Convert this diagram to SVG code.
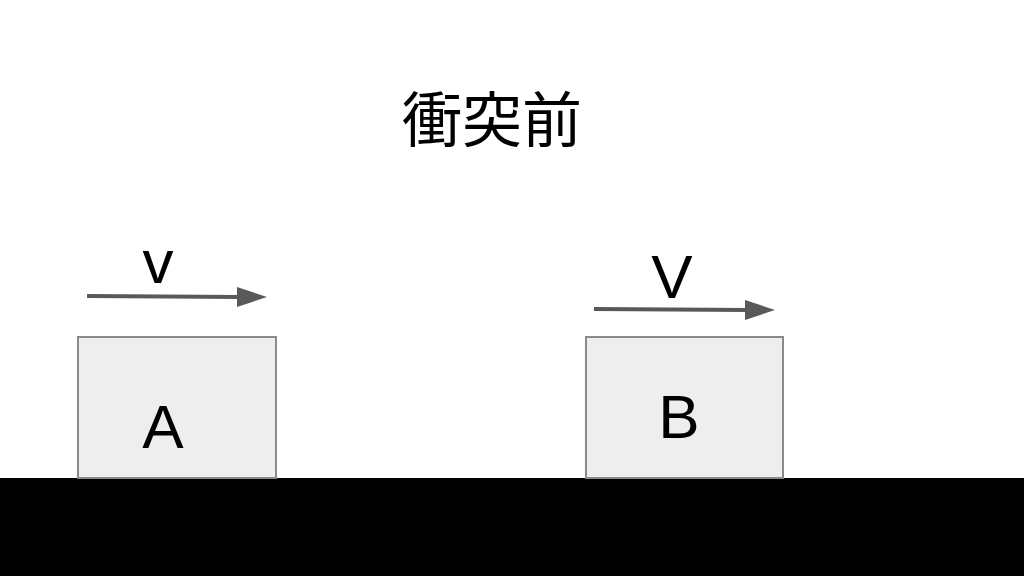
<svg xmlns="http://www.w3.org/2000/svg" width="1024" height="576" viewBox="0 0 1024 576">
<defs>
<style>
.box{fill:#eeeeee;stroke:#8a8a8a;stroke-width:2}
.lbl{font-family:"Liberation Sans",Arial,sans-serif;font-size:62px;fill:#000;text-anchor:middle}
.arr{stroke:#595959;stroke-width:4;fill:none}
.head{fill:#595959}
</style>
</defs>
<rect width="1024" height="576" fill="#fff"/>
<text x="492" y="142" font-family="'Noto Sans CJK JP','Noto Sans CJK SC',sans-serif" font-size="60" text-anchor="middle" fill="#000">衝突前</text>
<rect id="ground" x="0" y="478" width="1024" height="98" fill="#000"/>
<g id="nodeA">
<rect class="box" x="78" y="337" width="198" height="141"/>
<text class="lbl" x="163" y="448">A</text>
</g>
<g id="nodeB">
<rect class="box" x="586" y="337" width="197" height="141"/>
<text class="lbl" x="679" y="438">B</text>
</g>
<g id="connectors">
<line class="arr" x1="87" y1="296" x2="240" y2="297"/>
<polygon class="head" points="237,287 267,297 237,307"/>
<text class="lbl" x="158" y="283">v</text>
<line class="arr" x1="594" y1="309" x2="748" y2="310"/>
<polygon class="head" points="745,300 775,310 745,320"/>
<text class="lbl" x="672" y="298">V</text>
</g>
</svg>
